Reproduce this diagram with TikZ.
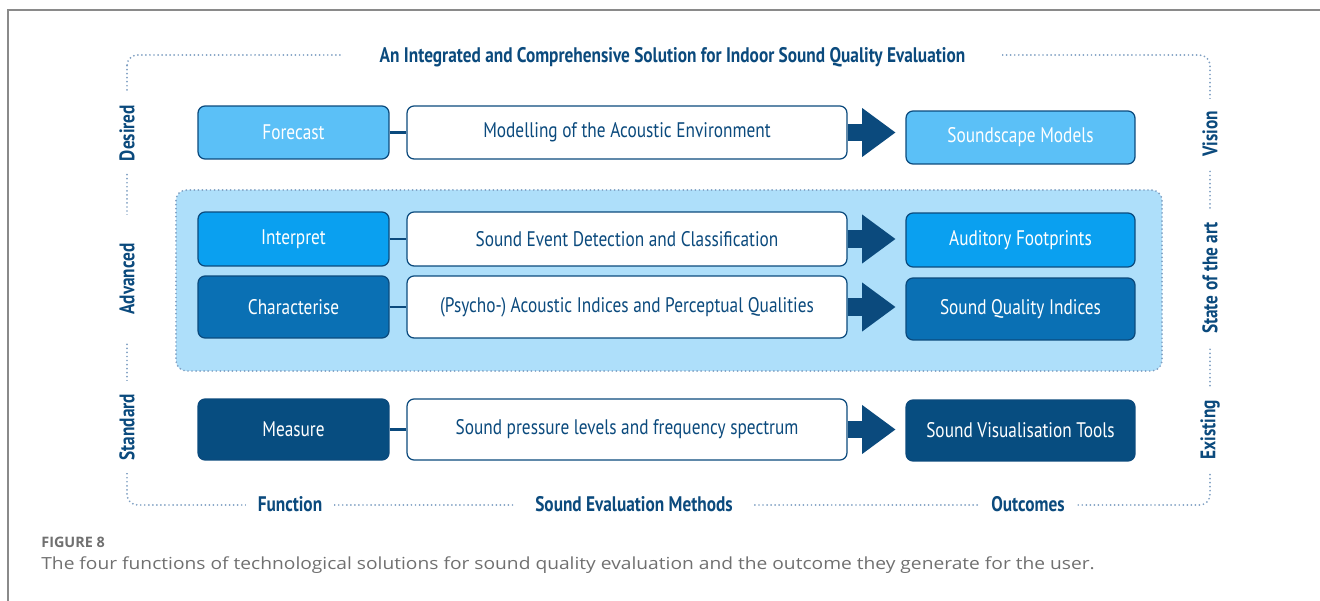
\documentclass[tikz,border=0pt]{standalone}
\usepackage{fontspec}
\setmainfont{PT Sans}[FakeStretch=0.82]
\newfontfamily\capfont{Open Sans}[FakeStretch=1.15]
\newfontfamily\capheadfont{Open Sans}
\usetikzlibrary{arrows.meta}
\definecolor{navy}{HTML}{0B4A7D}
\definecolor{skyblue}{HTML}{5BC0F7}
\definecolor{brightblue}{HTML}{0AA0F0}
\definecolor{midblue}{HTML}{0A70B4}
\definecolor{deepblue}{HTML}{074D80}
\definecolor{panelblue}{HTML}{AEDFFA}
\definecolor{dotblue}{HTML}{7F9FC2}
\definecolor{framegray}{HTML}{8A8A8A}
\definecolor{capgray}{HTML}{707070}

\begin{document}
\begin{tikzpicture}[x=0.02cm,y=-0.02cm,
		every node/.style={font=\fontsize{12}{14}\selectfont},
		fbox/.style={draw=navy,line width=0.7pt,rounded corners=4pt,text=white,minimum width=3.82cm},
		mbox/.style={fbox,fill=white,text=navy,minimum width=8.8cm},
		obox/.style={fbox,minimum width=4.58cm},
		tag/.style={fill=white,text=navy,font=\fontsize{12}{14}\selectfont\bfseries,inner ysep=1pt,inner xsep=7pt},
		dots/.style={draw=dotblue,line width=1.1pt,line cap=round,dash pattern=on 0pt off 2.3pt},
		link/.style={draw=navy,line width=1.4pt},
		bigarrow/.style={draw=navy,line width=10pt,-{Triangle[width=28pt,length=19pt,line width=0pt]},shorten >=5.7pt}]
	\useasboundingbox (0,0) rectangle (1320,601);
	\draw[framegray,line width=1.2pt] (1320,10) -- (8,10) -- (8,601);
	\draw[dots,rounded corners=6pt] (127,55) rectangle (1210,505);
	\draw[dots,fill=panelblue,rounded corners=6pt] (176,190) rectangle (1162,371);

	\node[fbox,fill=skyblue,minimum height=1.06cm] (fc) at (293.5,132.5) {Forecast};
	\node[mbox,minimum height=1.06cm] (m1) at (627,132.5) {Modelling of the Acoustic Environment};
	\node[obox,fill=skyblue,minimum height=1.06cm] (o1) at (1020.5,137.5) {Soundscape Models};

	\node[fbox,fill=brightblue,minimum height=1.08cm] (ip) at (293.5,239) {Interpret};
	\node[mbox,minimum height=1.08cm] (m2) at (627,239) {Sound Event Detection and Classification};
	\node[obox,fill=brightblue,minimum height=1.08cm] (o2) at (1020.5,240) {Auditory Footprints};

	\node[fbox,fill=midblue,minimum height=1.24cm] (ch) at (293.5,307) {Characterise};
	\node[mbox,minimum height=1.24cm] (m3) at (627,307) {(Psycho-) Acoustic Indices and Perceptual Qualities};
	\node[obox,fill=midblue,minimum height=1.24cm] (o3) at (1020.5,309) {Sound Quality Indices};

	\node[fbox,fill=deepblue,minimum height=1.22cm] (ms) at (293.5,429.5) {Measure};
	\node[mbox,minimum height=1.22cm] (m4) at (627,429.5) {Sound pressure levels and frequency spectrum};
	\node[obox,fill=deepblue,minimum height=1.22cm] (o4) at (1020.5,430.5) {Sound Visualisation Tools};

	\foreach \f/\m/\o in {fc/m1/o1,ip/m2/o2,ch/m3/o3,ms/m4/o4}{
		\draw[link] (\f) -- (\m);
		\draw[bigarrow] (\m.east) -- (\m.east -| \o.west);
	}

	\node[tag,inner xsep=21pt] (title) at (672.5,57) {An Integrated and Comprehensive Solution for Indoor Sound Quality Evaluation};
	\node[tag,rotate=90] (desired) at (127,133) {Desired};
	\node[tag,rotate=90,inner xsep=16pt] (advanced) at (127,279) {Advanced};
	\node[tag,rotate=90] (standard) at (127,427) {Standard};
	\node[tag,rotate=90] (vision) at (1210,134) {Vision};
	\node[tag,rotate=90] (sota) at (1210,278) {State of the art};
	\node[tag,rotate=90] (existing) at (1210,430) {Existing};
	\node[tag] (function) at (290,504) {Function};
	\node[tag,inner xsep=12pt] (methods) at (634,504) {Sound Evaluation Methods};
	\node[tag] (outcomes) at (1028,504) {Outcomes};

	\node[anchor=west,text=capgray,inner sep=0pt,font=\capheadfont\fontsize{8.2}{10}\selectfont\bfseries] (figno) at (41,542) {FIGURE 8};
	\node[anchor=west,text=capgray,inner sep=0pt,font=\capfont\fontsize{9.5}{12}\selectfont] (caption) at (41,565) {The four functions of technological solutions for sound quality evaluation and the outcome they generate for the user.};
\end{tikzpicture}
\end{document}
